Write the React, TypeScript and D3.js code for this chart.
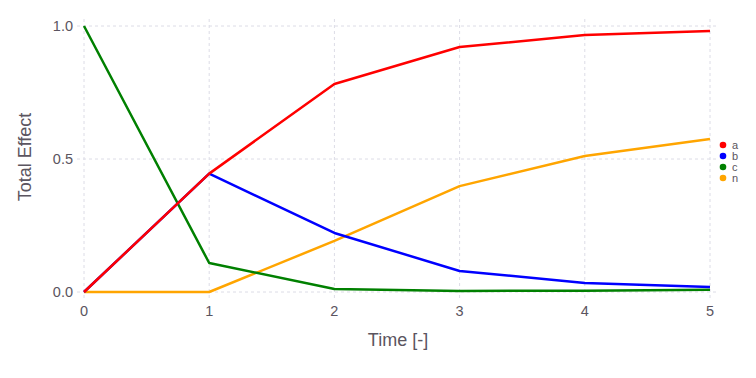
import React from "react";
import * as d3 from "d3";

const times = [0, 1, 2, 3, 4, 5];
const seriesNames = ["a", "b", "c", "n"];
const seriesColors = ["#ff0000", "#0000ff", "#008000", "#ffa500"];
const aValues = [0, 0.445, 0.782, 0.921, 0.966, 0.981];
const bValues = [0, 0.445, 0.222, 0.079, 0.034, 0.019];
const cValues = [1.0, 0.109, 0.011, 0.004, 0.005, 0.008];
const nValues = [0, 0, 0.192, 0.398, 0.511, 0.575];
const yTicks = [0, 0.5, 1.0];
const xTicks = [0, 1, 2, 3, 4, 5];

export default function App() {
  const W = 756, H = 378;
  const x = d3.scaleLinear().domain([0, 5]).range([84, 710]);
  const y = d3.scaleLinear().domain([0, 1]).range([292, 26]);
  const line = d3.line<number>().x((_, i) => x(times[i])).y((d) => y(d));
  const all = [aValues, bValues, cValues, nValues];
  const drawOrder = [3, 2, 1, 0];
  const font = "'Liberation Sans', Arial, Helvetica, sans-serif";
  const textColor = "#5b5560";
  const gridColor = "#dcdce6";
  return (
    <div style={{ position: "absolute", left: 0, top: 0 }}>
      <svg width={W} height={H} style={{ display: "block", fontFamily: font }}>
        <rect width={W} height={H} fill="#fff" />
        {yTicks.map((t) => (
          <line key={"gy" + t} x1={77} x2={717} y1={y(t)} y2={y(t)} stroke={gridColor} strokeWidth={1} strokeDasharray="3,3" />
        ))}
        {xTicks.map((t) => (
          <line key={"gx" + t} x1={x(t)} x2={x(t)} y1={19} y2={299} stroke={gridColor} strokeWidth={1} strokeDasharray="3,3" />
        ))}
        {yTicks.map((t) => (
          <text key={"ty" + t} x={73} y={y(t)} dy="0.35em" textAnchor="end" fontSize={14.5} fill={textColor}>
            {t.toFixed(1)}
          </text>
        ))}
        {xTicks.map((t) => (
          <text key={"tx" + t} x={x(t)} y={316} textAnchor="middle" fontSize={14.5} fill={textColor}>
            {t}
          </text>
        ))}
        <text x={398} y={346} textAnchor="middle" fontSize={18} fill={textColor}>Time [-]</text>
        <text transform={`translate(31,157) rotate(-90)`} textAnchor="middle" fontSize={18} fill={textColor}>Total Effect</text>
        {drawOrder.map((i) => (
          <path key={"s" + i} d={line(all[i]) || ""} fill="none" stroke={seriesColors[i]} strokeWidth={2.5} strokeLinejoin="round" />
        ))}
        {seriesNames.map((n, i) => (
          <g key={"l" + n} transform={`translate(723,${145 + i * 11})`}>
            <circle r={3.3} fill={seriesColors[i]} />
            <text x={9} dy="0.35em" fontSize={11} fill={textColor}>{n}</text>
          </g>
        ))}
      </svg>
    </div>
  );
}
